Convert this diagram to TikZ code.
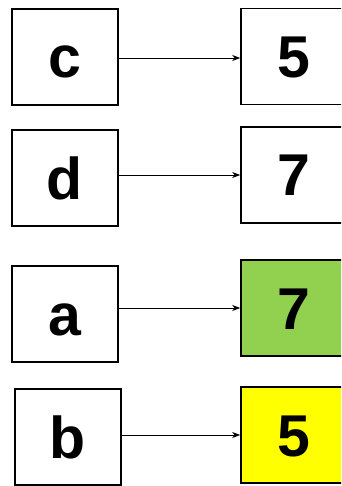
\documentclass[tikz,border=0pt]{standalone}
\usepackage{fontspec}
\setmainfont{Liberation Sans}
\usetikzlibrary{arrows.meta}
\definecolor{boxgreen}{HTML}{92D050}
\definecolor{boxyellow}{HTML}{FFFF00}
\begin{document}
\begin{tikzpicture}[x=1pt,y=-1pt,
  cell/.style={draw=black,line width=1.6pt,minimum width=106pt,minimum height=96pt,inner sep=0pt,
    font=\fontsize{59pt}{66pt}\selectfont\bfseries,text height=42pt,text depth=0pt},
  link/.style={line width=0.9pt,-{Stealth[length=8pt,width=6pt,inset=2.5pt]}}]
\useasboundingbox (0,0) rectangle (341,486);
\clip (0,0) rectangle (341,486);
\node[cell] (c) at (65,57) {c};
\node[cell] (v5) at (294,56.5) {5};
\node[cell] (d) at (65,178) {d};
\node[cell] (v7) at (294,175) {7};
\node[cell] (a) at (65,314) {a};
\node[cell,fill=boxgreen] (g7) at (294,308) {7};
\node[cell] (b) at (68,437) {b};
\node[cell,fill=boxyellow] (y5) at (294,435) {5};
\draw[link] (c.east |- 0,58) -- (v5.west |- 0,58);
\draw[link] (d.east |- 0,175) -- (v7.west |- 0,175);
\draw[link] (a.east |- 0,308) -- (g7.west |- 0,308);
\draw[link] (b.east |- 0,435) -- (y5.west |- 0,435);
\end{tikzpicture}
\end{document}
